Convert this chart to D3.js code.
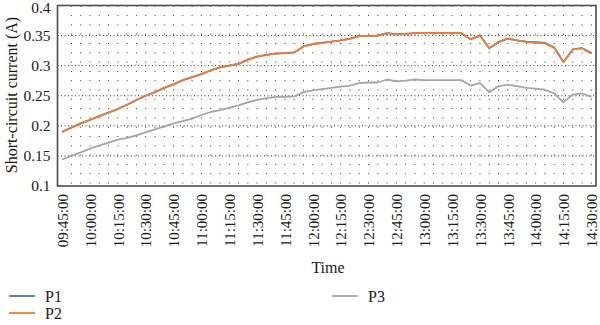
<!DOCTYPE html>
<html>
<head>
<meta charset="utf-8">
<script src="https://cdn.jsdelivr.net/npm/d3@7"></script>
<style>
  html, body { margin: 0; padding: 0; background: #fff; }
  svg { display: block; }
  text { font-family: "Liberation Serif", "DejaVu Serif", serif; fill: #1a1a1a; }
</style>
</head>
<body>
<svg id="chart" width="600" height="325"></svg>
<script>
// Sample times, every 5 minutes from 09:45 to 14:30
const times = [];
for (let m = 9 * 60 + 45; m <= 14 * 60 + 30; m += 5) {
  const h = Math.floor(m / 60), mm = m % 60;
  times.push(String(h).padStart(2, "0") + ":" + String(mm).padStart(2, "0") + ":00");
}

// Short-circuit current (A) per panel
const p2 = [0.190, 0.197, 0.204, 0.210, 0.216, 0.222, 0.228, 0.235, 0.243, 0.250,
            0.256, 0.263, 0.269, 0.276, 0.281, 0.286, 0.292, 0.297, 0.300, 0.303,
            0.310, 0.315, 0.318, 0.320, 0.321, 0.322, 0.332, 0.336, 0.338, 0.340,
            0.342, 0.345, 0.349, 0.349, 0.350, 0.354, 0.352, 0.353, 0.354, 0.354,
            0.354, 0.354, 0.354, 0.354, 0.344, 0.350, 0.329, 0.339, 0.345, 0.342,
            0.339, 0.338, 0.337, 0.330, 0.306, 0.327, 0.329, 0.320];
const p1 = [0.190, 0.197, 0.204, 0.210, 0.216, 0.222, 0.228, 0.235, 0.243, 0.250,
            0.256, 0.263, 0.269, 0.276, 0.281, 0.286, 0.292, 0.297, 0.300, 0.303,
            0.310, 0.315, 0.318, 0.320, 0.321, 0.322, 0.332, 0.336, 0.338, 0.340,
            0.342, 0.345, 0.349, 0.349, 0.350, 0.354, 0.352, 0.353, 0.354, 0.354,
            0.354, 0.354, 0.354, 0.354, 0.344, 0.350, 0.329, 0.339, 0.345, 0.342,
            0.340, 0.339, 0.338, 0.330, 0.306, 0.327, 0.329, 0.321];
const p3 = [0.144, 0.150, 0.156, 0.162, 0.167, 0.172, 0.177, 0.180, 0.184, 0.189,
            0.194, 0.199, 0.204, 0.208, 0.212, 0.218, 0.223, 0.226, 0.230, 0.234,
            0.239, 0.243, 0.246, 0.248, 0.248, 0.249, 0.256, 0.259, 0.261, 0.263,
            0.265, 0.267, 0.271, 0.272, 0.272, 0.277, 0.274, 0.275, 0.277, 0.276,
            0.276, 0.276, 0.276, 0.276, 0.267, 0.271, 0.256, 0.266, 0.268, 0.266,
            0.263, 0.262, 0.260, 0.254, 0.239, 0.252, 0.254, 0.248];

const yTicks = [0.1, 0.15, 0.2, 0.25, 0.3, 0.35, 0.4];
const series = [
  { name: "P1", values: p1, color: "#4472c4" },
  { name: "P2", values: p2, color: "#ed7d31" },
  { name: "P3", values: p3, color: "#a5a5a5" }
];

const svg = d3.select("#chart");
const plot = { left: 57.5, right: 596, top: 5.5, bottom: 186 };

const x = d3.scalePoint()
  .domain(times)
  .range([plot.left, plot.right])
  .padding(0.5);
const y = d3.scaleLinear().domain([0.1, 0.4]).range([plot.bottom, plot.top]);

// Vertical dotted grid at every sample time
svg.append("g")
  .selectAll("line")
  .data(times.slice(1))
  .join("line")
  .attr("x1", d => x(d)).attr("x2", d => x(d))
  .attr("y1", plot.bottom - 2.5).attr("y2", plot.top)
  .attr("stroke", "#333")
  .attr("stroke-width", 1)
  .attr("stroke-dasharray", "1,8.3");

// Horizontal dotted grid at each y tick
svg.append("g")
  .selectAll("line")
  .data(yTicks.slice(1, -1))
  .join("line")
  .attr("x1", plot.left).attr("x2", plot.right)
  .attr("y1", d => y(d)).attr("y2", d => y(d))
  .attr("stroke", "#333")
  .attr("stroke-width", 1)
  .attr("stroke-dasharray", "1,2.5");

// Series lines
const line = d3.line()
  .x((d, i) => x(times[i]))
  .y(d => y(d));

const drawOrder = [series[2], series[0], series[1]];
svg.append("g")
  .selectAll("path")
  .data(drawOrder)
  .join("path")
  .attr("d", d => line(d.values))
  .attr("fill", "none")
  .attr("stroke", d => d.color)
  .attr("stroke-width", 1.8)
  .attr("stroke-linejoin", "round");

// Plot frame
svg.append("rect")
  .attr("x", plot.left).attr("y", plot.top)
  .attr("width", plot.right - plot.left)
  .attr("height", plot.bottom - plot.top)
  .attr("fill", "none")
  .attr("stroke", "#4d4d4d")
  .attr("stroke-width", 1.6);

// Y axis
const yAxis = svg.append("g")
  .attr("transform", `translate(${plot.left},0)`)
  .call(d3.axisLeft(y).tickValues(yTicks).tickSize(0).tickPadding(7)
    .tickFormat(d => String(+d.toFixed(2))));
yAxis.select(".domain").remove();
yAxis.selectAll("text")
  .style("font-family", '"Liberation Serif", "DejaVu Serif", serif')
  .style("font-size", "15.5px")
  .attr("fill", "#1a1a1a")
  .attr("dy", d => d === 0.4 ? "0.45em" : "0.32em");

// X axis: label every 15 minutes
const xAxis = svg.append("g")
  .attr("transform", `translate(0,${plot.bottom})`)
  .call(d3.axisBottom(x).tickValues(times.filter((d, i) => i % 3 === 0)).tickSize(0));
xAxis.select(".domain").remove();
xAxis.selectAll("text")
  .style("font-family", '"Liberation Serif", "DejaVu Serif", serif')
  .style("font-size", "15px")
  .attr("fill", "#1a1a1a")
  .attr("transform", "rotate(-90)")
  .attr("text-anchor", "end")
  .attr("x", -8)
  .attr("y", 0)
  .attr("dy", "0.35em");

// Axis titles
svg.append("text")
  .attr("x", 328).attr("y", 273)
  .attr("text-anchor", "middle")
  .style("font-size", "16px")
  .text("Time");

svg.append("text")
  .attr("transform", "translate(17,95) rotate(-90)")
  .attr("text-anchor", "middle")
  .style("font-size", "16px")
  .text("Short-circuit current (A)");

// Legend
const legendPos = [
  { s: series[0], x: 9, y: 296 },
  { s: series[1], x: 9, y: 313 },
  { s: series[2], x: 332, y: 296 }
];
const lg = svg.append("g")
  .selectAll("g")
  .data(legendPos)
  .join("g")
  .attr("transform", d => `translate(${d.x},${d.y})`);
lg.append("line")
  .attr("x1", 0).attr("x2", 26)
  .attr("stroke", d => d.s.color)
  .attr("stroke-width", 1.8);
lg.append("text")
  .attr("x", 36).attr("dy", "0.35em")
  .style("font-size", "16px")
  .text(d => d.s.name);
</script>
</body>
</html>
